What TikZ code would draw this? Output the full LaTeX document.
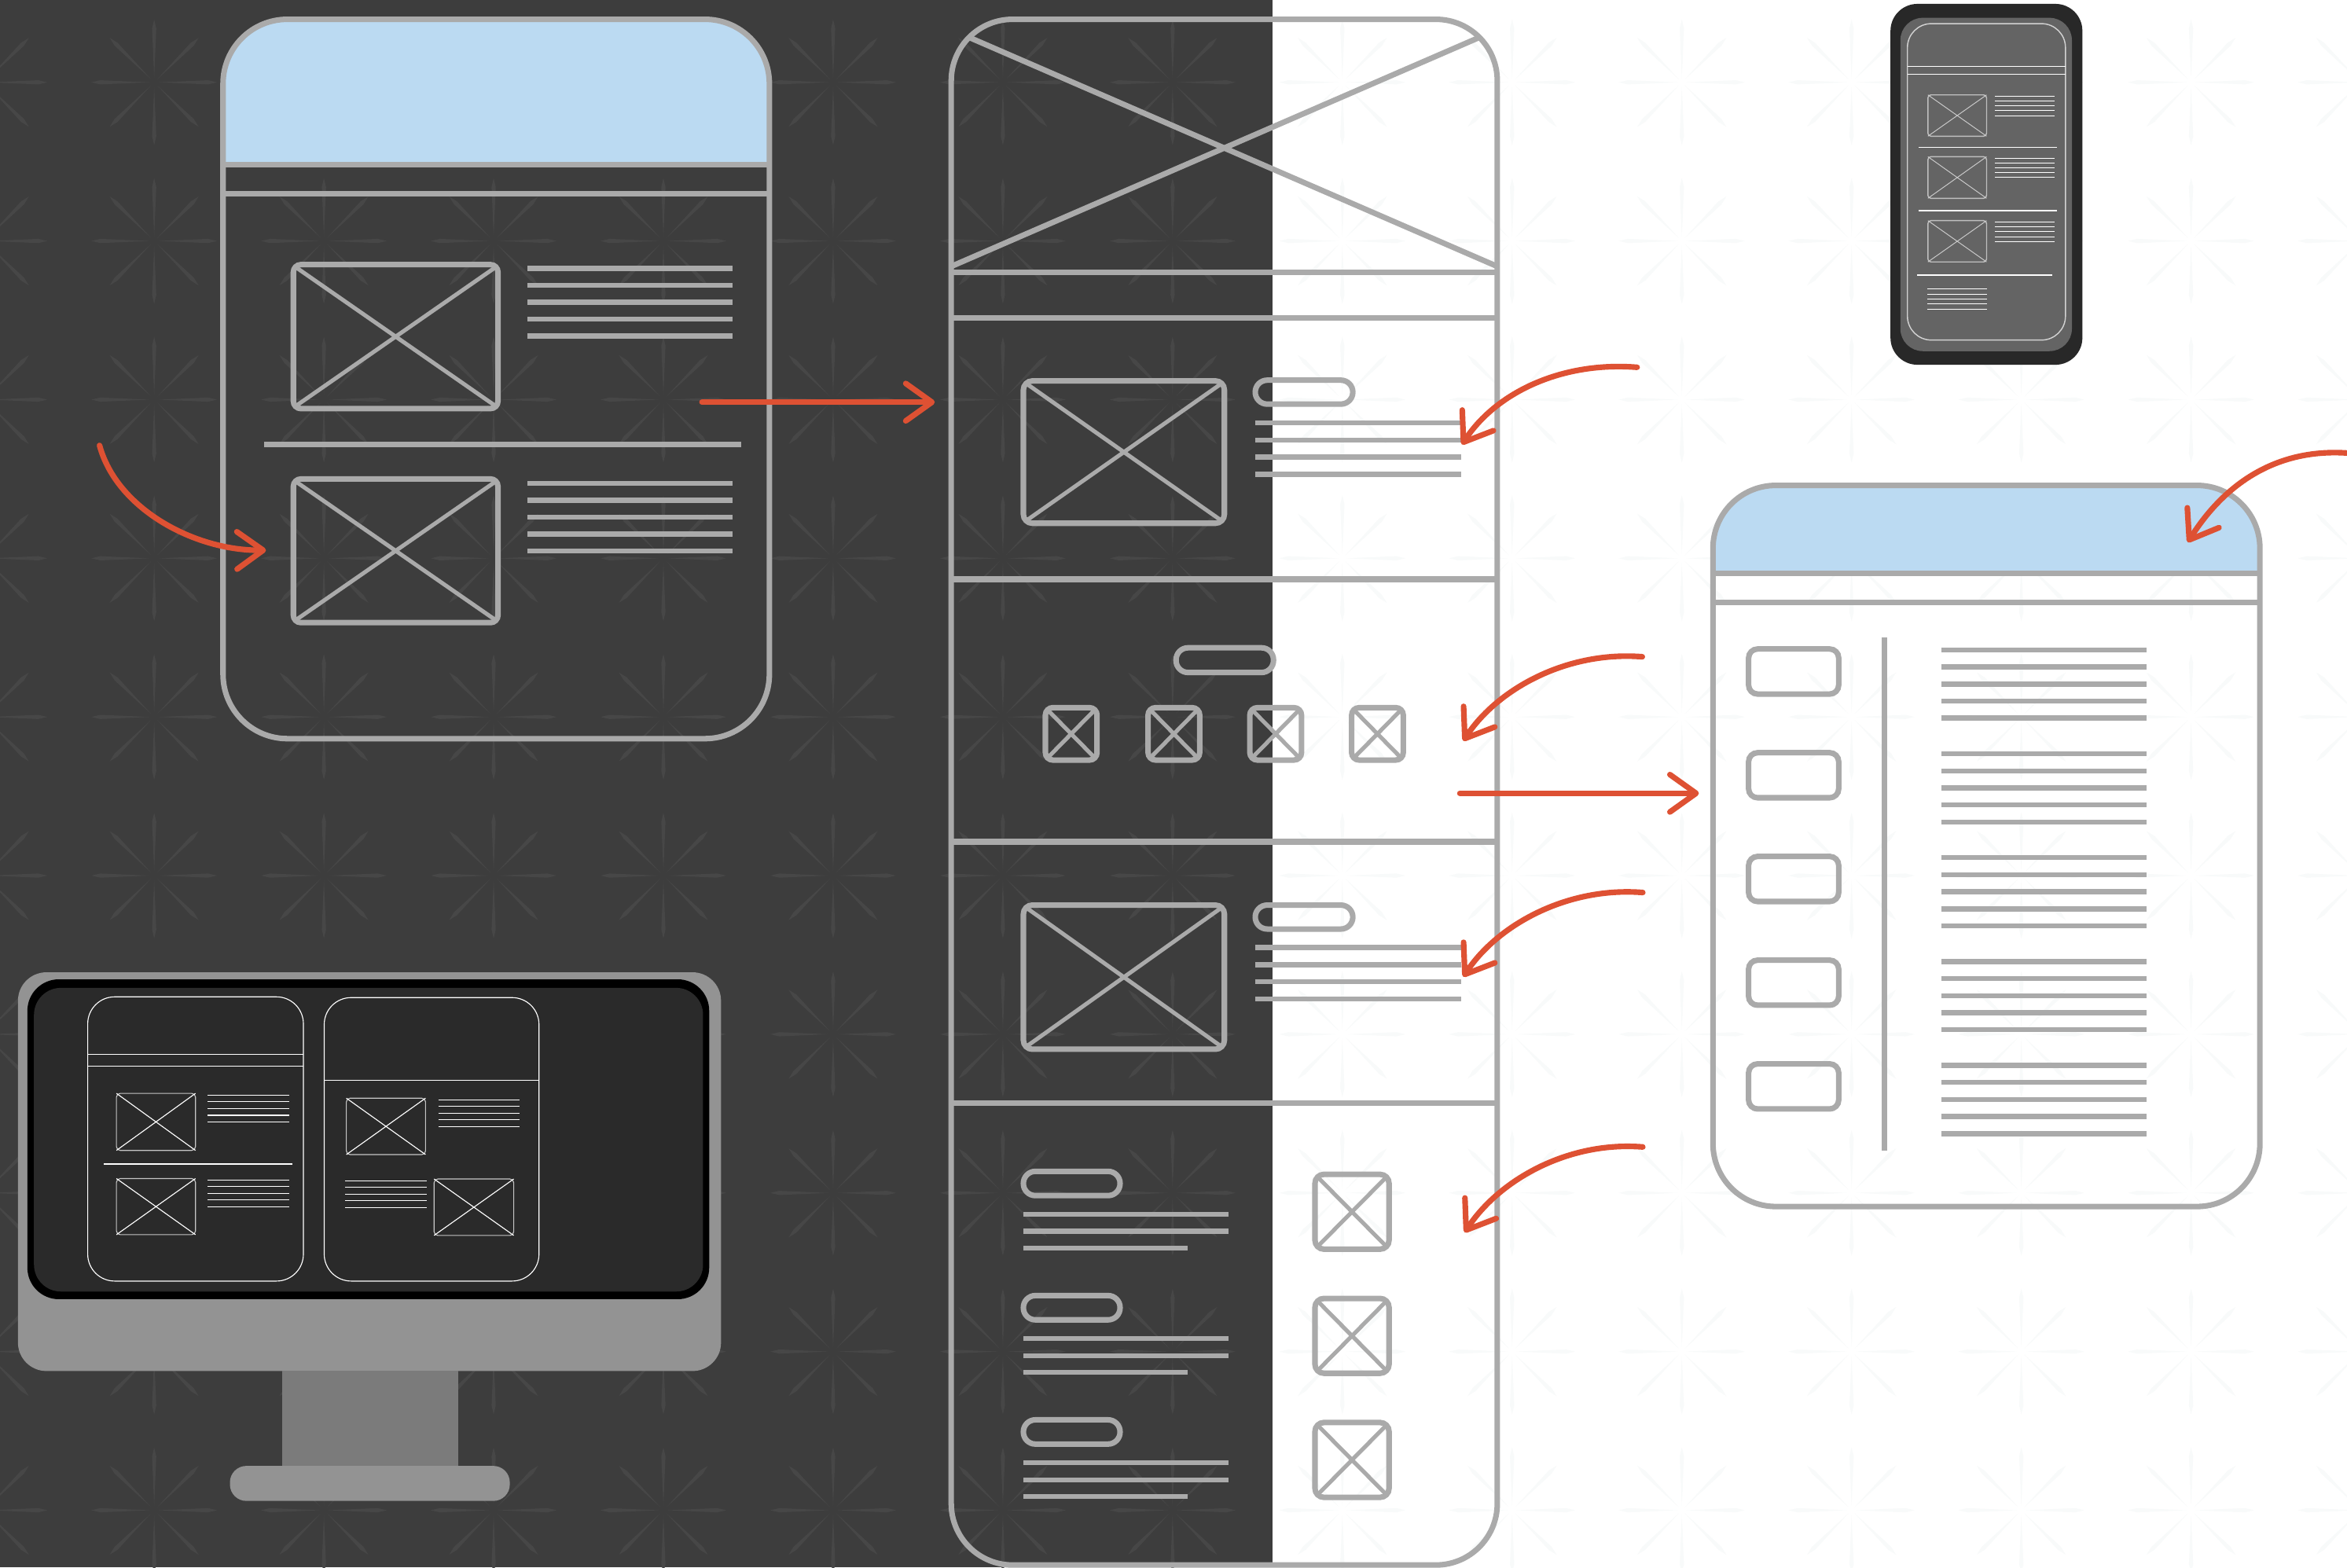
\documentclass[tikz,border=0pt]{standalone}
\usepackage{tikz}
\usetikzlibrary{arrows.meta,calc}
\definecolor{bgdark}{HTML}{3D3D3D}
\definecolor{stardark}{HTML}{474747}
\definecolor{starpale}{HTML}{F8FAFA}
\definecolor{wire}{HTML}{AAAAAA}
\definecolor{skyblue}{HTML}{BBDAF2}
\definecolor{arrowred}{HTML}{DE5133}
\definecolor{phoneouter}{HTML}{282828}
\definecolor{phoneinner}{HTML}{646464}
\definecolor{monframe}{HTML}{939393}
\definecolor{monscreen}{HTML}{2A2A2A}
\definecolor{monneck}{HTML}{7B7B7B}
\begin{document}
\begin{tikzpicture}[x=0.2mm,y=-0.2mm,
    frame/.style={draw=wire,line width=0.74mm},
    cross/.style={draw=wire,line width=0.54mm},
    txt/.style={draw=wire,line width=0.68mm},
    redarrow/.style={draw=arrowred,line width=0.75mm,line cap=round,-{Straight Barb[round,length=3.5mm,width=5mm]}},
    scrline/.style={draw=white,line width=0.12mm},
    scrbox/.style={draw=gray!45,line width=0.12mm},
    asterisk/.pic={\foreach \a in {0,45,...,315} \fill[rotate=\a] (3,0) -- (36,1.4) -- (42,0) -- (36,-1.4) -- cycle;}]
  \useasboundingbox (0,0) rectangle (1568,1047.1);
  \fill[white] (0,0) rectangle (1568,1047.1);
  \fill[bgdark] (0,0) rectangle (850,1047.1);
  \foreach \i in {-1,...,6}
    \foreach \j in {0,...,9}
      \pic[stardark] at ({103+113.4*\i},{55+106*\j}) {asterisk};
  \foreach \i in {7,...,13}
    \foreach \j in {0,...,9}
      \pic[starpale] at ({103+113.4*\i},{55+106*\j}) {asterisk};

  \fill[monframe,rounded corners=3.8mm] (12,649.6) rectangle (481.7,916);
  \fill[black,rounded corners=4.2mm] (18.3,654.3) rectangle (473.8,868);
  \fill[monscreen,rounded corners=3.6mm] (22.7,660) rectangle (469.7,862.9);
  \fill[monneck] (188.3,916) rectangle (306,979.4);
  \fill[monframe,rounded corners=2.2mm] (153.6,979.4) rectangle (340.6,1002.8);
  \draw[scrline,rounded corners=3.6mm] (58.6,666) rectangle (202.7,855.9);
  \draw[scrline] (58.6,704.4) -- (202.7,704.4) (58.6,712.4) -- (202.7,712.4) (69.3,777.7) -- (195.2,777.7);
  \draw[scrline,rounded corners=3.6mm] (216.6,666.5) rectangle (360.1,855.9);
  \draw[scrline] (216.6,721.8) -- (360.1,721.8);
  \foreach \xa/\ya/\xb/\yb in {77.8/730.5/130.6/768.6, 77.8/787.4/130.6/824.9, 231.4/733.7/284.3/771.4, 290/787.7/343.2/825.4} {
    \draw[scrbox,rounded corners=0.5mm] (\xa,\ya) rectangle (\xb,\yb);
    \draw[scrline] (\xa,\ya) -- (\xb,\yb) (\xa,\yb) -- (\xb,\ya);
  }
  \foreach \xa/\xb/\ya in {138.5/193/731.6, 138.5/193/788.3, 292.8/347.2/734.7, 230.5/285.2/788.8}
    \foreach \k in {0,...,4}
      \draw[scrline] (\xa,{\ya+4.5*\k}) -- (\xb,{\ya+4.5*\k});

  \fill[phoneouter,rounded corners=3.6mm] (1263,2.6) rectangle (1391.2,243.7);
  \fill[phoneinner,rounded corners=3mm] (1269.6,11.9) rectangle (1384.2,234.6);
  \draw[draw=gray!35,line width=0.15mm,rounded corners=3.2mm] (1274.3,15.8) rectangle (1379.9,227.2);
  \draw[draw=white,line width=0.12mm] (1274.3,44.3) -- (1379.9,44.3) (1274.3,49.5) -- (1379.9,49.5)
    (1281.8,98.4) -- (1374.3,98.4) (1281.8,140.7) -- (1374.3,140.7) (1280.7,183.8) -- (1371.2,183.8);
  \foreach \ya/\yb/\yt in {63.4/91/64.2, 104.7/132.5/105.6, 147.4/175/148.3} {
    \draw[draw=gray!50,line width=0.15mm,rounded corners=0.4mm] (1288,\ya) rectangle (1327.2,\yb);
    \draw[draw=gray!40,line width=0.1mm] (1288,\ya) -- (1327.2,\yb) (1288,\yb) -- (1327.2,\ya);
    \foreach \k in {0,...,4}
      \draw[draw=white,line width=0.1mm] (1332.6,{\yt+3.25*\k}) -- (1372.9,{\yt+3.25*\k});
  }
  \foreach \k in {0,...,4}
    \draw[draw=white,line width=0.1mm] (1287.6,{193.2+3.3*\k}) -- (1327.3,{193.2+3.3*\k});

  \begin{scope}
    \clip[rounded corners=8.6mm] (149,12.9) rectangle (514,493.5);
    \fill[skyblue] (149,12.9) rectangle (514,110);
  \end{scope}
  \draw[frame,rounded corners=8.6mm] (149,12.9) rectangle (514,493.5);
  \draw[frame] (149,110) -- (514,110) (149,129.6) -- (514,129.6) (176.5,297) -- (495,297);
  \foreach \ya/\yb/\yt in {176.8/273/179.4, 320/416/323} {
    \draw[frame,rounded corners=1mm] (196,\ya) rectangle (332.7,\yb);
    \draw[cross] (198,{\ya+2}) -- (330.7,{\yb-2}) (198,{\yb-2}) -- (330.7,{\ya+2});
    \foreach \k in {0,...,4}
      \draw[txt] (352.4,{\yt+11.25*\k}) -- (489.5,{\yt+11.25*\k});
  }

  \draw[frame,rounded corners=8.2mm] (635.5,12.9) rectangle (1000.3,1045.6);
  \draw[frame] (647.5,25) -- (1000.3,178) (988.3,25) -- (635.5,178);
  \foreach \y in {182.2,212.2,387,562.4,737}
    \draw[frame] (635.5,\y) -- (1000.3,\y);
  \foreach \ya/\yb/\yp/\yt in {254.5/349.6/254/282.6, 604.7/701/604.7/633.1} {
    \draw[frame,rounded corners=1.2mm] (683.7,\ya) rectangle (818,\yb);
    \draw[cross] (686,{\ya+2}) -- (815.7,{\yb-2}) (686,{\yb-2}) -- (815.7,{\ya+2});
    \draw[frame,rounded corners=1.6mm] (838.6,\yp) rectangle (903.8,{\yp+16});
    \foreach \k in {0,...,3}
      \draw[txt] (838.6,{\yt+11.4*\k}) -- (976.2,{\yt+11.4*\k});
  }
  \draw[frame,rounded corners=1.6mm] (785.7,432.8) rectangle (850.8,449.3);
  \foreach \x in {698.4,767,835,903} {
    \draw[frame,rounded corners=1mm] (\x,472.8) rectangle ({\x+34.5},507.8);
    \draw[cross] ({\x+2},474.8) -- ({\x+32.5},505.8) ({\x+2},505.8) -- ({\x+32.5},474.8);
  }
  \foreach \k in {0,1,2} {
    \draw[frame,rounded corners=1.6mm] (683.7,{782.6+83*\k}) rectangle (748.3,{798.8+83*\k});
    \draw[txt] (683.7,{811.2+83*\k}) -- (821,{811.2+83*\k}) (683.7,{822.7+83*\k}) -- (821,{822.7+83*\k})
      (683.7,{833.8+83*\k}) -- (793.6,{833.8+83*\k});
    \draw[frame,rounded corners=1.2mm] (878.5,{784.6+82.9*\k}) rectangle (928,{834.6+82.9*\k});
    \draw[cross] (880.5,{786.6+82.9*\k}) -- (926,{832.6+82.9*\k}) (880.5,{832.6+82.9*\k}) -- (926,{786.6+82.9*\k});
  }

  \begin{scope}
    \clip[rounded corners=8.4mm] (1144.4,324.3) rectangle (1509.8,806.1);
    \fill[skyblue] (1144.4,324.3) rectangle (1509.8,383.3);
  \end{scope}
  \draw[frame,rounded corners=8.4mm] (1144.4,324.3) rectangle (1509.8,806.1);
  \draw[frame] (1144.4,383.3) -- (1509.8,383.3) (1144.4,402.4) -- (1509.8,402.4);
  \draw[frame] (1259.2,426) -- (1259.2,769);
  \foreach \g in {0,...,4} {
    \draw[frame,rounded corners=1.2mm] (1168.2,{433.6+69.3*\g}) rectangle (1228.4,{463.7+69.3*\g});
    \foreach \k in {0,...,4}
      \draw[txt] (1297,{434.2+69.4*\g+11.4*\k}) -- (1434.2,{434.2+69.4*\g+11.4*\k});
  }

  \coordinate (tlOut) at (469,268.7);
  \coordinate (midIn) at (624.5,268.7);
  \draw[redarrow] (tlOut) -- (midIn);
  \coordinate (leftTail) at (66.5,297.6);
  \coordinate (leftTip) at (177.7,367.6);
  \draw[redarrow] (leftTail) .. controls (78,340) and (130,368) .. (leftTip);
  \foreach \n/\tx/\ty/\hx/\hy in {1/1093.7/245.4/976.7/297, 2/1097.2/438.8/977.6/495, 3/1097.5/596.3/977.6/652.6, 4/1097.5/766.3/978.5/823.4} {
    \coordinate (note\n) at (\tx,\ty);
    \coordinate (spot\n) at (\hx,\hy);
    \draw[redarrow] (note\n) .. controls ($(note\n)+(-50,-4)$) and ($(spot\n)+(23,-35)$) .. (spot\n);
  }
  \coordinate (midOut) at (975.3,530);
  \coordinate (deskIn) at (1135,530);
  \draw[redarrow] (midOut) -- (deskIn);
  \coordinate (hdrTail) at (1572,303);
  \coordinate (hdrTip) at (1461.6,362.3);
  \draw[redarrow] (hdrTail) .. controls (1520,298) and (1485,325) .. (hdrTip);
\end{tikzpicture}
\end{document}
